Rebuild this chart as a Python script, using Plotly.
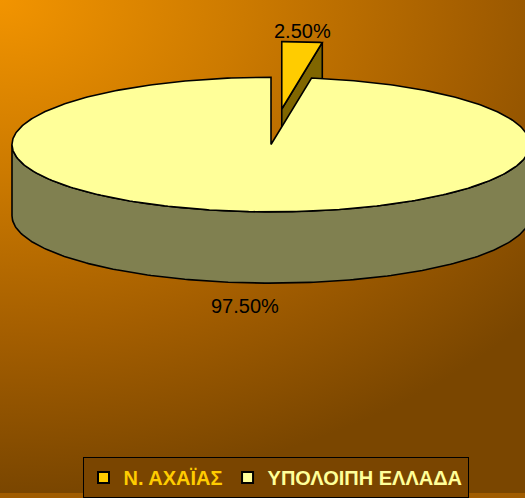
import base64
import numpy as np
import plotly.graph_objects as go

# ---- data ----
labels = ["Ν. ΑΧΑΪΑΣ", "ΥΠΟΛΟΙΠΗ ΕΛΛΑΔΑ"]
values = [2.5, 97.5]

# ---- style ----
top_colors = ["#FFCC00", "#FFFF99"]
side_colors = ["#806600", "#808050"]
legend_text_colors = ["#FFCC00", "#FFFF99"]
explode = [0.53, 0.0]
TILT = 68 / 259
DEPTH = 72 / 259
START = 90.0
W, H = 525, 498
CX_PX, CY_PX, R_PX = 271, 146, 259
OUT = "black"
LW = 1.6

fig = go.Figure()


def arc(a_from, a_to, ox, oy, dz=0.0, n=200):
    t = np.radians(np.linspace(a_from, a_to, n))
    return ox + np.cos(t), oy + TILT * np.sin(t) - dz


def poly(xs, ys, fill):
    fig.add_trace(go.Scatter(
        x=np.r_[xs, xs[0]], y=np.r_[ys, ys[0]], mode="lines", fill="toself",
        fillcolor=fill, line=dict(color=OUT, width=LW), hoverinfo="skip",
        showlegend=False))


total = sum(values)
slices = []
a = START
for i, v in enumerate(values):
    a1 = a - 360 * v / total
    mid = np.radians((a + a1) / 2)
    ox = explode[i] * np.cos(mid)
    oy = explode[i] * TILT * np.sin(mid)
    slices.append((i, a, a1, ox, oy))
    a = a1

order = sorted(slices, key=lambda s: -explode[s[0]])
for i, a0, a1, ox, oy in order:
    if np.cos(np.radians(a1)) > 1e-9:
        ex, ey = ox + np.cos(np.radians(a1)), oy + TILT * np.sin(np.radians(a1))
        poly(np.array([ox, ex, ex, ox]), np.array([oy, ey, ey - DEPTH, oy - DEPTH]), side_colors[i])
    if np.cos(np.radians(a0)) < -1e-9:
        ex, ey = ox + np.cos(np.radians(a0)), oy + TILT * np.sin(np.radians(a0))
        poly(np.array([ox, ex, ex, ox]), np.array([oy, ey, ey - DEPTH, oy - DEPTH]), side_colors[i])
    for k in (-1, 0, 1):
        lo, hi = max(a1, -180 + 360 * k), min(a0, 360 * k)
        if hi > lo:
            tx, ty = arc(lo, hi, ox, oy)
            bx, by = arc(hi, lo, ox, oy, DEPTH)
            poly(np.r_[tx, bx], np.r_[ty, by], side_colors[i])
    tx, ty = arc(a0, a1, ox, oy, n=400)
    poly(np.r_[ox, tx], np.r_[oy, ty], top_colors[i])

# data labels
label_pos = [(302, 18), (245, 309)]
for v, (px, py) in zip(values, label_pos):
    fig.add_annotation(x=px / W, y=1 - py / H, xref="paper", yref="paper",
                       text=f"{v:.2f}%", showarrow=False,
                       font=dict(family="Liberation Sans, Arial", size=20, color="black"))

# legend entries
for lab, c, tc in zip(labels, top_colors, legend_text_colors):
    fig.add_trace(go.Scatter(
        x=[None], y=[None], mode="markers",
        marker=dict(symbol="square", size=11, color=c, line=dict(color="black", width=2)),
        name=f"<span style='color:{tc}'><b>{lab}</b></span>"))

# background gradient
svg = (
    f"<svg xmlns='http://www.w3.org/2000/svg' width='{W}' height='{H}'>"
    "<defs><radialGradient id='g' gradientUnits='userSpaceOnUse' cx='0' cy='0' r='498' "
    "gradientTransform='scale(1.4,1)'>"
    "<stop offset='0' stop-color='#F29400'/>"
    "<stop offset='0.35' stop-color='#CC7A00'/>"
    "<stop offset='0.68' stop-color='#A45E00'/>"
    "<stop offset='1' stop-color='#7A4600'/>"
    "</radialGradient></defs>"
    f"<rect width='{W}' height='{H}' fill='url(#g)'/></svg>"
)
src = "data:image/svg+xml;base64," + base64.b64encode(svg.encode()).decode()

fig.update_layout(
    width=W, height=H,
    margin=dict(l=0, r=0, t=0, b=0),
    paper_bgcolor="#A05C00", plot_bgcolor="rgba(0,0,0,0)",
    images=[dict(source=src, xref="paper", yref="paper", x=0, y=1, sizex=1, sizey=1,
                 sizing="stretch", layer="below")],
    xaxis=dict(range=[-CX_PX / R_PX, (W - CX_PX) / R_PX], visible=False, fixedrange=True),
    yaxis=dict(range=[(CY_PX - H) / R_PX, CY_PX / R_PX], visible=False, fixedrange=True),
    showlegend=True,
    legend=dict(orientation="h", x=275.5 / W, xanchor="center", y=1 - 462 / H, yanchor="top",
                bgcolor="#7A4500", bordercolor="black", borderwidth=1,
                font=dict(family="Liberation Sans, Arial", size=20),
                itemwidth=30, tracegroupgap=0),
)

fig.write_html(
    "out.html",
    config={"displayModeBar": False},
    post_script="document.body.style.margin='0';document.body.style.overflow='hidden';",
)
